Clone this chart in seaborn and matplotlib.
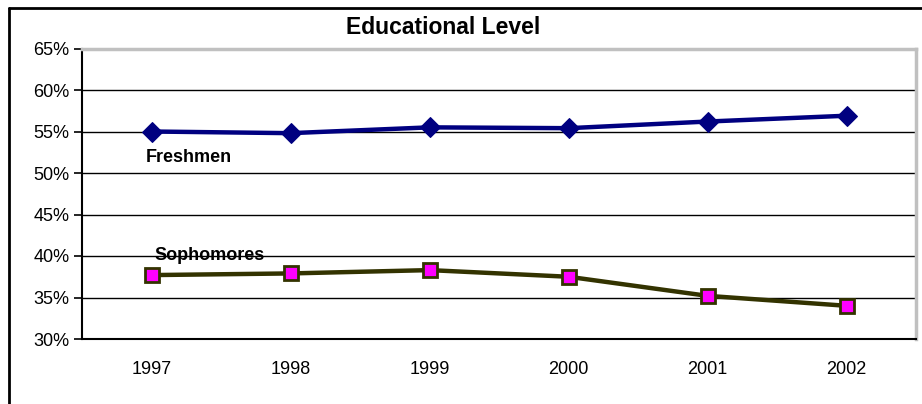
import numpy as np
import matplotlib
matplotlib.use("Agg")
import matplotlib.pyplot as plt
from matplotlib.lines import Line2D
from matplotlib.ticker import FuncFormatter
import pandas as pd
import seaborn as sns

years = ["1997", "1998", "1999", "2000", "2001", "2002"]
freshmen = [0.550, 0.548, 0.555, 0.554, 0.562, 0.569]
sophomores = [0.377, 0.379, 0.383, 0.375, 0.352, 0.340]

df = pd.DataFrame({
    "pos": list(range(len(years))) * 2,
    "value": freshmen + sophomores,
    "series": ["Freshmen"] * len(years) + ["Sophomores"] * len(years),
})

sns.set_style("white")
plt.rcParams["font.family"] = ["Liberation Sans", "DejaVu Sans"]
plt.rcParams["text.color"] = "black"
plt.rcParams["xtick.color"] = "black"
plt.rcParams["ytick.color"] = "black"

fig = plt.figure(figsize=(9.22, 4.04), dpi=100)
ax = fig.add_axes([82 / 922, 1 - 339 / 404, (916 - 82) / 922, (339 - 48.5) / 404])

# freshmen line
sns.lineplot(data=df[df.series == "Freshmen"], x="pos", y="value", ax=ax,
             color="#000080", lw=3.2, marker="D", markersize=10,
             markeredgecolor="#000080", legend=False, zorder=5)
# sophomores line
sns.lineplot(data=df[df.series == "Sophomores"], x="pos", y="value", ax=ax,
             color="#333300", lw=3.2, marker="s", markersize=9.5,
             markerfacecolor="#ff00ff", markeredgecolor="#333300",
             markeredgewidth=2, legend=False, zorder=5)

ax.set_xlim(-0.5, len(years) - 0.5)
ax.set_ylim(0.30, 0.65)
ax.set_yticks(np.arange(0.30, 0.651, 0.05))
ax.yaxis.set_major_formatter(FuncFormatter(lambda v, p: "%d%%" % round(v * 100)))
ax.set_xticks(range(len(years)))
ax.set_xticklabels(years)
ax.set_xticks(np.arange(-0.5, len(years), 1.0), minor=True)
ax.tick_params(axis="x", which="major", length=0, pad=16, labelsize=13, colors="black")
ax.tick_params(axis="x", which="minor", length=6, width=1.2, direction="out", color="black")
ax.tick_params(axis="y", length=6, width=1.2, direction="out", color="black",
               labelsize=13, pad=3, left=True, labelcolor="black")
ax.set_xlabel("")
ax.set_ylabel("")

ax.yaxis.grid(True, color="black", lw=1)
ax.set_axisbelow(True)
for s in ["left", "bottom"]:
    ax.spines[s].set_color("black")
    ax.spines[s].set_linewidth(1.5)
for s in ["top", "right"]:
    ax.spines[s].set_color("#c0c0c0")
    ax.spines[s].set_linewidth(2.5)

ax.text(-0.04, 0.519, "Freshmen", fontsize=13, fontweight="bold", va="center", ha="left")
ax.text(0.02, 0.401, "Sophomores", fontsize=13, fontweight="bold", va="center", ha="left")

fig.text(443 / 922, 1 - 27 / 404, "Educational Level", fontsize=16.5, fontweight="bold",
         ha="center", va="center")

# outer chart frame
fig.add_artist(Line2D([8.5 / 922, 8.5 / 922], [0, 1 - 7.5 / 404], color="black", lw=2,
                      transform=fig.transFigure))
fig.add_artist(Line2D([8.5 / 922, 1], [1 - 7.5 / 404, 1 - 7.5 / 404], color="black", lw=2,
                      transform=fig.transFigure))

fig.savefig("out.png", dpi=100)
